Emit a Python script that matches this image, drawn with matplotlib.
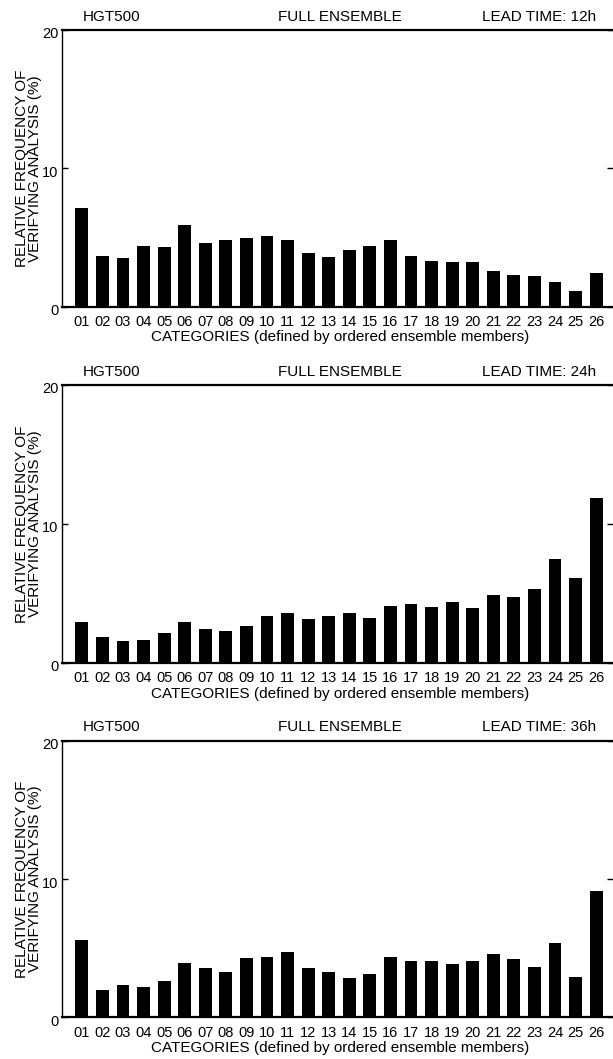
import numpy as np
import matplotlib.pyplot as plt
from matplotlib.transforms import ScaledTranslation

plt.rcParams['font.family'] = ['Liberation Sans', 'DejaVu Sans']

# category labels 01..26
categories = ['%02d' % i for i in range(1, 27)]

# relative frequency of verifying analysis (%)
freq_12h = [7.1, 3.7, 3.5, 4.4, 4.3, 5.9, 4.6, 4.8, 5.0, 5.1, 4.8, 3.9, 3.6,
            4.1, 4.4, 4.8, 3.7, 3.3, 3.2, 3.2, 2.6, 2.3, 2.2, 1.8, 1.1, 2.4]
freq_24h = [2.9, 1.85, 1.55, 1.6, 2.15, 2.95, 2.45, 2.3, 2.65, 3.35, 3.55, 3.15, 3.35,
            3.55, 3.25, 4.05, 4.2, 4.0, 4.4, 3.95, 4.85, 4.75, 5.3, 7.5, 6.1, 11.85]
freq_36h = [5.6, 2.0, 2.3, 2.2, 2.6, 3.9, 3.55, 3.3, 4.3, 4.35, 4.7, 3.6, 3.3,
            2.85, 3.1, 4.35, 4.05, 4.1, 3.85, 4.05, 4.55, 4.2, 3.65, 5.35, 2.95, 9.15]

lead_times = ['12h', '24h', '36h']
series = [freq_12h, freq_24h, freq_36h]

W, H = 613, 1059
fig = plt.figure(figsize=(W / 100, H / 100), dpi=100)

# axes boxes in pixels: (top, bottom)
boxes = [(30, 306.7), (385, 662.7), (740.7, 1017.3)]
left_px, right_px = 61.7, 613

x = np.arange(1, 27)
for (top, bot), lt, vals in zip(boxes, lead_times, series):
    ax = fig.add_axes([left_px / W, 1 - bot / H, (right_px - left_px) / W, (bot - top) / H])
    ax.bar(x, vals, width=0.63, color='black', edgecolor='none')
    ax.set_xlim(0.02, 26.82)
    ax.set_ylim(0, 20)

    ax.spines['right'].set_visible(False)
    ax.spines['top'].set_linewidth(1.6)
    ax.spines['bottom'].set_linewidth(1.6)
    ax.spines['left'].set_linewidth(1.0)

    ax.set_xticks(x)
    ax.set_xticklabels(categories)
    ax.tick_params(axis='x', length=0, pad=6.0, labelsize=10.5)
    ax.set_yticks([0, 10, 20])
    ax.tick_params(axis='y', direction='in', length=4, width=1, pad=2.5,
                   labelsize=10.5, right=True)
    off = ScaledTranslation(0, -3 / 100, fig.dpi_scale_trans)
    for lab in ax.get_yticklabels():
        lab.set_transform(lab.get_transform() + off)

    ax.set_xlabel('CATEGORIES (defined by ordered ensemble members)', fontsize=11,
                  va='center')
    ax.xaxis.set_label_coords(0.505, -0.111)
    ax.set_ylabel('RELATIVE FREQUENCY OF\nVERIFYING ANALYSIS (%)', fontsize=11,
                  va='center', linespacing=0.9)
    ax.yaxis.set_label_coords(-0.06, 0.5)

    ax.text(0.039, 1.048, 'HGT500', transform=ax.transAxes, fontsize=11,
            ha='left', va='center')
    ax.text(0.505, 1.048, 'FULL ENSEMBLE', transform=ax.transAxes, fontsize=11,
            ha='center', va='center')
    ax.text(0.97, 1.048, 'LEAD TIME: ' + lt, transform=ax.transAxes, fontsize=11,
            ha='right', va='center')

plt.savefig('out.png', dpi=100)
